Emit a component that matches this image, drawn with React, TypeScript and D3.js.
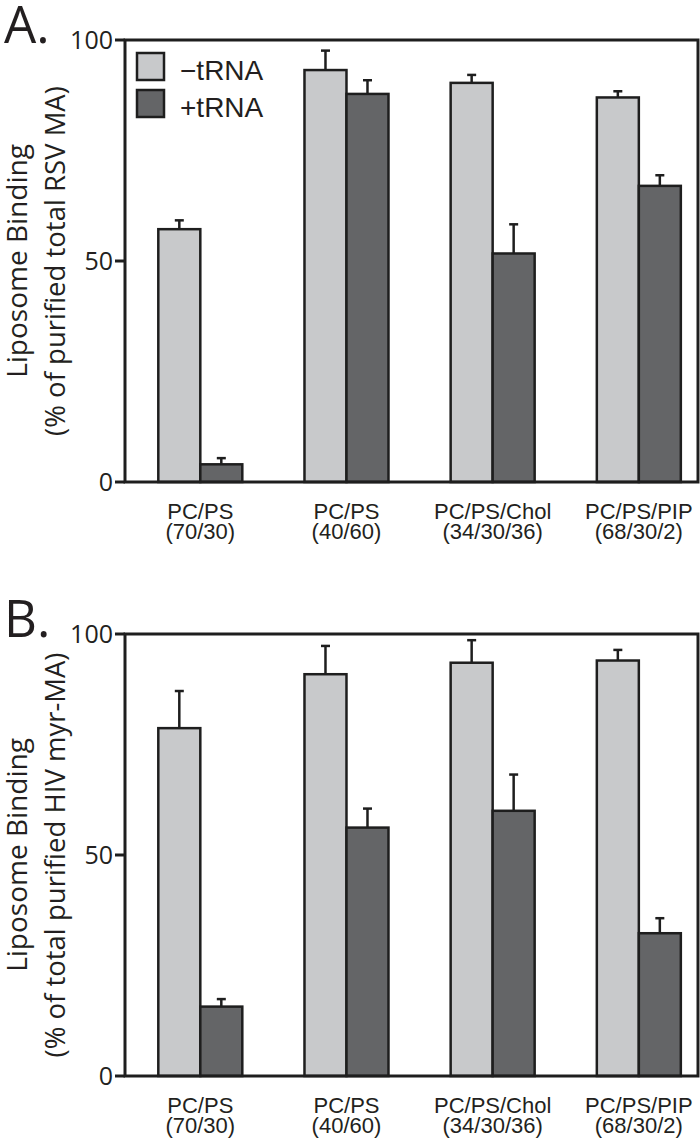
import React from "react";
import * as d3 from "d3";

const lipids = ["PC/PS", "PC/PS", "PC/PS/Chol", "PC/PS/PIP"];
const ratios = ["(70/30)", "(40/60)", "(34/30/36)", "(68/30/2)"];
const seriesNames = ["−tRNA", "+tRNA"];
const yTicks = [0, 50, 100];

const aMinus = [57.2, 93.2, 90.3, 87.0];
const aMinusErr = [2.0, 4.4, 1.8, 1.4];
const aPlus = [4.0, 87.8, 51.7, 67.0];
const aPlusErr = [1.4, 3.1, 6.6, 2.4];

const bMinus = [78.7, 90.9, 93.5, 94.0];
const bMinusErr = [8.4, 6.4, 5.1, 2.4];
const bPlus = [15.7, 56.2, 60.0, 32.3];
const bPlusErr = [1.7, 4.3, 8.2, 3.4];

const W = 700;
const H = 1144;
const LIGHT = "#c8c9cb";
const DARK = "#646567";
const INK = "#1e1e1e";
const MYRIAD = "'Open Sans', 'Noto Sans', sans-serif";
const HELV = "'Liberation Sans', Arial, sans-serif";

const left = 125;
const right = 698;

type PanelProps = {
  top: number;
  bottom: number;
  letter: string;
  yLabel1: string;
  yLabel2: string;
  minus: number[];
  minusErr: number[];
  plus: number[];
  plusErr: number[];
  legend: boolean;
};

function Panel(p: PanelProps) {
  const keys = lipids.map((l, i) => l + ratios[i]);
  const x = d3.scalePoint<string>().domain(keys).range([left, right]).padding(0.46).align(0.56);
  const sub = d3.scaleBand<string>().domain(seriesNames).range([-42, 42]).padding(0);
  const y = d3.scaleLinear().domain([0, 100]).range([p.bottom, p.top]);
  const bw = sub.bandwidth();
  const series = [
    { name: seriesNames[0], vals: p.minus, errs: p.minusErr, fill: LIGHT },
    { name: seriesNames[1], vals: p.plus, errs: p.plusErr, fill: DARK },
  ];
  const mid = (p.top + p.bottom) / 2;
  return (
    <g>
      <text x={4} y={p.top + 3} fontFamily={MYRIAD} fontSize={51} fill="#231f20">{p.letter}</text>
      {/* y label */}
      <g transform={`translate(27,${mid}) rotate(-90)`}>
        <text textAnchor="middle" fontFamily={MYRIAD} fontSize={28} fill="#231f20">{p.yLabel1}</text>
      </g>
      <g transform={`translate(65,${mid}) rotate(-90)`}>
        <text textAnchor="middle" fontFamily={MYRIAD} fontSize={27.5} fill="#231f20">{p.yLabel2}</text>
      </g>
      {/* bars */}
      {series.map((s) =>
        keys.map((k, i) => {
          const x0 = (x(k) as number) + (sub(s.name) as number);
          const yv = y(s.vals[i]);
          const ye = y(s.vals[i] + s.errs[i]);
          const cx = x0 + bw / 2;
          return (
            <g key={s.name + k}>
              <line x1={cx} x2={cx} y1={yv} y2={ye} stroke={INK} strokeWidth={2.5} />
              <line x1={cx - 4.5} x2={cx + 4.5} y1={ye} y2={ye} stroke={INK} strokeWidth={2.5} />
              <rect x={x0} y={yv} width={bw} height={p.bottom - yv} fill={s.fill} stroke={INK} strokeWidth={2.5} />
            </g>
          );
        })
      )}
      {/* frame */}
      <rect x={left} y={p.top} width={right - left} height={p.bottom - p.top} fill="none" stroke={INK} strokeWidth={3} />
      {yTicks.map((t) => (
        <g key={t}>
          <line x1={left - 10} x2={left} y1={y(t)} y2={y(t)} stroke={INK} strokeWidth={3} />
          <text x={left - 12} y={y(t)} dy="0.36em" textAnchor="end" fontFamily={MYRIAD} fontSize={25} fill="#231f20">{t}</text>
        </g>
      ))}
      {/* categories */}
      {keys.map((k, i) => (
        <text key={k} x={x(k)} y={p.bottom + 37} textAnchor="middle" fontFamily={HELV} fontSize={22} fill="#231f20">
          <tspan x={x(k)}>{lipids[i]}</tspan>
          <tspan x={x(k)} dy={20}>{ratios[i]}</tspan>
        </text>
      ))}
      {p.legend && (
        <g>
          {series.map((s, i) => (
            <g key={s.name} transform={`translate(137,${p.top + 13 + i * 37})`}>
              <rect x={0} y={0} width={27} height={27} fill={s.fill} stroke={INK} strokeWidth={2.5} />
              <text x={43} y={27} fontFamily={HELV} fontSize={28} fill="#231f20">{s.name}</text>
            </g>
          ))}
        </g>
      )}
    </g>
  );
}

export default function App() {
  return (
    <svg width={W} height={H} style={{ position: "absolute", left: 0, top: 0, background: "#fff" }}>
      <rect width={W} height={H} fill="#fff" />
      <Panel
        top={40}
        bottom={482}
        letter="A."
        yLabel1="Liposome Binding"
        yLabel2="(% of purified total RSV MA)"
        minus={aMinus}
        minusErr={aMinusErr}
        plus={aPlus}
        plusErr={aPlusErr}
        legend={true}
      />
      <Panel
        top={634}
        bottom={1076}
        letter="B."
        yLabel1="Liposome Binding"
        yLabel2="(% of total purified HIV myr-MA)"
        minus={bMinus}
        minusErr={bMinusErr}
        plus={bPlus}
        plusErr={bPlusErr}
        legend={false}
      />
    </svg>
  );
}
